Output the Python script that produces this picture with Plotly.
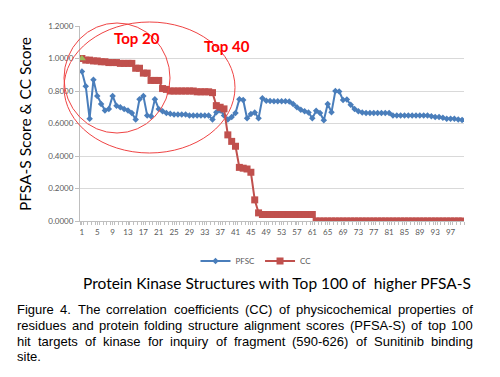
import plotly.graph_objects as go

structures = list(range(1, 101))

pfsc = [0.92, 0.83, 0.63, 0.87, 0.77, 0.72, 0.68, 0.69, 0.77, 0.71,
        0.70, 0.69, 0.68, 0.665, 0.625, 0.75, 0.77, 0.65, 0.645, 0.75,
        0.69, 0.675, 0.665, 0.66, 0.655, 0.655, 0.655, 0.655, 0.65, 0.65,
        0.65, 0.65, 0.65, 0.65, 0.625, 0.67, 0.68, 0.65, 0.625, 0.64,
        0.665, 0.75, 0.745, 0.632, 0.658, 0.668, 0.632, 0.755, 0.74, 0.738,
        0.737, 0.737, 0.737, 0.737, 0.735, 0.72, 0.70, 0.685, 0.675, 0.668,
        0.632, 0.678, 0.665, 0.62, 0.72, 0.67, 0.80, 0.797, 0.745, 0.748,
        0.715, 0.69, 0.675, 0.667, 0.665, 0.665, 0.665, 0.665, 0.665, 0.665,
        0.665, 0.65, 0.65, 0.65, 0.65, 0.65, 0.65, 0.65, 0.65, 0.65,
        0.65, 0.645, 0.64, 0.64, 0.635, 0.63, 0.63, 0.63, 0.625, 0.622]

cc = [1.00, 0.99, 0.99, 0.985, 0.985, 0.98, 0.98, 0.975, 0.975, 0.975,
      0.97, 0.97, 0.97, 0.97, 0.94, 0.94, 0.91, 0.91, 0.865, 0.865,
      0.865, 0.815, 0.81, 0.80, 0.80, 0.80, 0.80, 0.80, 0.80, 0.80,
      0.795, 0.795, 0.795, 0.795, 0.79, 0.71, 0.70, 0.69, 0.53, 0.49,
      0.46, 0.33, 0.325, 0.32, 0.30, 0.13, 0.05, 0.04, 0.04, 0.04,
      0.04, 0.04, 0.04, 0.04, 0.04, 0.04, 0.04, 0.04, 0.04, 0.04,
      0.04] + [0.0] * 39

first_x = [1]
first_y = [1.0]

y_ticks = [0.0, 0.2, 0.4, 0.6, 0.8, 1.0, 1.2]
x_ticks = list(range(1, 101, 4))

caption_lines = [
    "Figure 4. The correlation coefficients (CC) of physicochemical properties of",
    "residues and protein folding structure alignment scores (PFSA-S) of top 100",
    "hit targets of kinase for inquiry of fragment (590-626) of Sunitinib binding",
    "site.",
]

BLUE = "#4a7ebb"
RED = "#c0504d"

# plot-area geometry in pixels
L, R, T, B = 80, 36, 26, 156
W, H = 500, 377
PW, PH = W - L - R, H - T - B


def px(x):
    return (x - L) / PW


def py(y):
    return (H - B - y) / PH


fig = go.Figure()
fig.add_trace(go.Scatter(x=structures, y=pfsc, name="PFSC", mode="lines+markers",
                         line=dict(color=BLUE, width=2),
                         marker=dict(symbol="diamond", size=5, color=BLUE)))
fig.add_trace(go.Scatter(x=structures, y=cc, name="CC", mode="lines+markers",
                         line=dict(color=RED, width=2),
                         marker=dict(symbol="square", size=7, color=RED)))
fig.add_trace(go.Scatter(x=first_x, y=first_y, mode="markers", showlegend=False,
                         marker=dict(symbol="triangle-up", size=7, color="#9bbb59")))

fig.update_layout(
    width=W, height=H,
    margin=dict(l=L, r=R, t=T, b=B, autoexpand=False),
    paper_bgcolor="white", plot_bgcolor="white",
    font=dict(family="Lato", color="#404040"),
    legend=dict(orientation="h", x=px(256), xanchor="center", y=py(261), yanchor="middle",
                font=dict(size=8, color="#595959"), itemwidth=30,
                bgcolor="rgba(0,0,0,0)"),
    showlegend=True,
)
fig.update_yaxes(range=[0, 1.2], tickvals=y_ticks, tickformat=".4f", automargin=False,
                 showgrid=True, gridcolor="#d9d9d9", gridwidth=1,
                 showline=True, linecolor="#bfbfbf", ticks="outside", ticklen=4,
                 tickcolor="#bfbfbf", tickfont=dict(size=8, color="#595959"),
                 zeroline=False)
fig.update_xaxes(range=[0.5, 100.5], tickvals=x_ticks, showgrid=False, automargin=False,
                 showline=True, linecolor="#bfbfbf", ticks="outside", ticklen=3,
                 tickcolor="#bfbfbf", tickfont=dict(size=8, color="#595959"),
                 minor=dict(dtick=1, tick0=0.5, ticks="outside", ticklen=3, tickcolor="#bfbfbf"),
                 zeroline=False)

# ellipses
fig.add_shape(type="circle", xref="paper", yref="paper",
              x0=px(64), x1=px(170), y0=py(133), y1=py(23),
              line=dict(color="#ef4444", width=1))
fig.add_shape(type="circle", xref="paper", yref="paper",
              x0=px(64), x1=px(235), y0=py(153), y1=py(22),
              line=dict(color="#ef4444", width=1))


def label(text, x, y, size, color, family, angle=0, xa="center"):
    fig.add_annotation(text=text, xref="paper", yref="paper", x=px(x), y=py(y),
                       xanchor=xa, yanchor="middle", showarrow=False, textangle=angle,
                       borderpad=0, font=dict(size=size, color=color, family=family))


label("<b>Top 20</b>", 137, 38, 15, "#ff0000", "Lato")
label("<b>Top 40</b>", 227, 46, 15, "#ff0000", "Lato")
label("PFSA-S Score & CC Score", 25, 124, 15.5, "#000000", "Lato", angle=-90)
label("Protein Kinase Structures with Top 100 of  higher PFSA-S", 277, 283, 15.5,
      "#000000", "Lato")

# justified caption (Arial / Liberation Sans advance widths, per 1000 em)
AW = {' ': 278, '(': 333, ')': 333, '-': 333, '.': 278, ',': 278}
for ch in "0123456789":
    AW[ch] = 556
AW.update({'A': 667, 'B': 667, 'C': 722, 'D': 722, 'E': 667, 'F': 611, 'G': 778, 'H': 722,
           'I': 278, 'J': 500, 'K': 667, 'L': 556, 'M': 833, 'N': 722, 'O': 778, 'P': 667,
           'Q': 778, 'R': 722, 'S': 667, 'T': 611, 'U': 722, 'V': 667, 'W': 944, 'X': 667,
           'Y': 667, 'Z': 611,
           'a': 556, 'b': 556, 'c': 500, 'd': 556, 'e': 556, 'f': 278, 'g': 556, 'h': 556,
           'i': 222, 'j': 222, 'k': 500, 'l': 222, 'm': 833, 'n': 556, 'o': 556, 'p': 556,
           'q': 556, 'r': 333, 's': 500, 't': 278, 'u': 556, 'v': 500, 'w': 722, 'x': 500,
           'y': 500, 'z': 500})
FS = 13
CAP_L, CAP_R = 16, 472
cap_y = [309, 325, 341, 356]


def tw(s):
    return sum(AW.get(c, 556) for c in s) * FS / 1000.0


for i, (line, yy) in enumerate(zip(caption_lines, cap_y)):
    words = line.split(" ")
    if i == len(caption_lines) - 1 or len(words) < 2:
        label(line, CAP_L, yy, FS, "#000000", "Liberation Sans", xa="left")
        continue
    widths = [tw(w) for w in words]
    gap = (CAP_R - CAP_L - sum(widths)) / (len(words) - 1)
    xpos = CAP_L
    for w, wd in zip(words, widths):
        label(w, xpos, yy, FS, "#000000", "Liberation Sans", xa="left")
        xpos += wd + gap

fig.write_html("out.html", config={"displayModeBar": False},
               post_script="document.body.style.margin='0';document.body.style.padding='0';")
